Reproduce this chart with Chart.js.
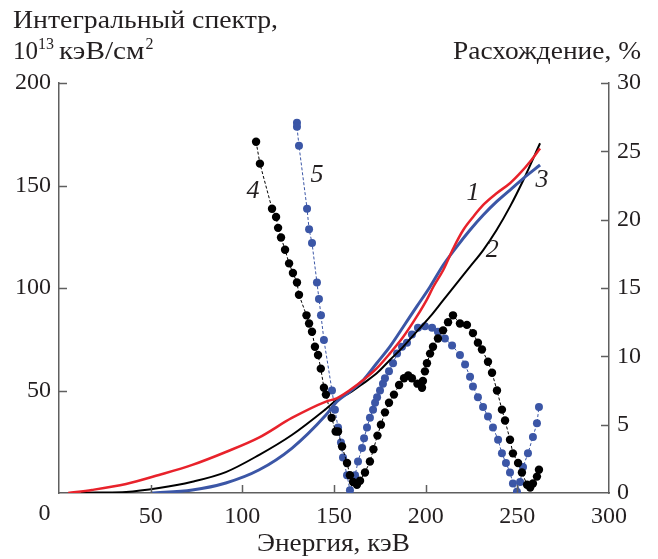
<!DOCTYPE html>
<html>
<head>
<meta charset="utf-8">
<script src="https://cdn.jsdelivr.net/npm/chart.js@4.4.1/dist/chart.umd.min.js"></script>
<style>
  html, body { margin: 0; padding: 0; background: #fff; }
  #wrap { width: 658px; height: 559px; position: relative; }
</style>
</head>
<body>
<div id="wrap"><canvas id="c" width="658" height="559"></canvas></div>
<script>
// ---- Data ----
const xTicks = [0, 50, 100, 150, 200, 250, 300];
const yLeftTicks = [0, 50, 100, 150, 200];
const yRightTicks = [0, 5, 10, 15, 20, 25, 30];

// Curve 1 (red): integral spectrum, 10^13 keV/cm^2
const curve1X = [5, 18, 36.6, 54.5, 72.7, 91, 109, 127, 145.6, 151.5, 158.7, 166, 173.3, 180.5, 187.8, 195.1, 200.5, 204.2, 209.6, 215.1, 220.5, 226, 231.4, 238.7, 246, 251.5, 256.9, 262.4];
const curve1Y = [0, 1.5, 4.4, 8.8, 13.7, 20, 27, 36.6, 44.6, 46.2, 50.2, 55.1, 60.8, 68.1, 76.2, 86, 94.1, 100.6, 108.8, 119.4, 128.3, 134.8, 140.5, 146.2, 151.1, 156, 161.6, 168.1];

// Curve 2 (black)
const curve2X = [12, 20, 36.6, 54.5, 72.7, 91, 109, 127, 145.6, 151.5, 158.7, 166, 173.3, 180.5, 187.8, 195.1, 202.4, 209.6, 216.9, 224.2, 231.4, 238.7, 246, 253.3, 262.4];
const curve2Y = [0, 0.2, 0.5, 2.4, 5.5, 10.2, 18.5, 28.3, 41, 45.4, 48.9, 53.5, 58.4, 64.9, 71.4, 78.7, 86, 94.1, 102.3, 110.4, 118.5, 128.3, 139.7, 152.7, 170.6];

// Curve 3 (blue)
const curve3X = [50, 72.7, 91, 109, 127, 145.6, 151.5, 158.7, 166, 173.3, 180.5, 187.8, 195.1, 202.4, 209.6, 216.9, 224.2, 231.4, 238.7, 246, 253.3, 262.4];
const curve3Y = [0, 1.5, 4.9, 11.2, 21.8, 38, 44.5, 49.5, 55.1, 63.3, 71.4, 81.1, 90.9, 100.6, 111.2, 120.1, 128.3, 135.6, 142.1, 147.8, 153.5, 160];

// Curve 4 (black dots): discrepancy, %
const curve4X = [107.5, 109.6, 116.2, 118.4, 119.5, 121.1, 123.3, 125.5, 127.6, 129.8, 130.9, 135, 136.4, 138.0, 139.6, 141.3, 142.8, 144.5, 145.6, 148.7, 150.9, 152.2, 154.4, 157.1, 158.7, 160.4, 162.5, 164.2, 166.9, 169.6, 171.5, 173.7, 175.6, 177.8, 180.0, 182.7, 185.5, 188.2, 190.5, 192.5, 195.5, 198.0, 198.5, 199.6, 200.7, 202.4, 204.0, 206.7, 209.5, 212.2, 214.9, 218.7, 222.5, 225.8, 228.5, 230.7, 234.0, 236.2, 238.9, 241.6, 243.3, 246.0, 247.6, 250.4, 252.5, 255.3, 257.0, 258.5, 260.7, 261.8];
const curve4Y = [25.7, 24.1, 20.8, 20.2, 19.4, 18.7, 17.8, 16.8, 16.1, 15.4, 14.5, 13.0, 12.4, 11.8, 10.7, 10.1, 9.1, 7.7, 7.2, 5.5, 4.5, 4.5, 3.4, 2.2, 1.3, 0.8, 0.6, 0.9, 1.5, 2.3, 3.2, 4.2, 5.0, 5.9, 6.6, 7.2, 7.9, 8.4, 8.6, 8.4, 8.0, 7.7, 8.2, 8.9, 9.5, 10.2, 10.7, 11.3, 11.9, 12.5, 13.0, 12.4, 12.3, 11.7, 11.0, 10.5, 9.6, 8.8, 7.5, 6.1, 5.3, 3.9, 2.9, 2.2, 1.5, 0.6, 0.4, 0.7, 1.2, 1.7];

// Curve 5 (blue dots)
const curve5X = [129.8, 129.8, 130.9, 135.3, 136.4, 138.0, 140.7, 141.8, 142.9, 144.5, 148.9, 150.5, 152.2, 153.8, 154.9, 157.1, 158.7, 161.5, 163.1, 165.3, 166.4, 168.0, 169.6, 171.3, 172.4, 173.5, 175.1, 176.7, 177.8, 180.0, 182.2, 184.4, 187.1, 189.8, 192.5, 195.8, 199.6, 203.5, 206.7, 210.5, 214.4, 218.7, 221.5, 224.2, 225.8, 228.5, 231.3, 234.0, 236.7, 239.5, 241.6, 243.8, 246.0, 247.6, 249.8, 251.5, 253.1, 255.8, 258.5, 260.7, 261.8];
const curve5Y = [27.1, 26.8, 25.4, 20.8, 19.3, 18.3, 15.4, 14.2, 13.0, 11.2, 7.5, 6.1, 4.8, 3.7, 2.6, 1.3, 0.2, 1.3, 2.3, 3.3, 4.0, 4.8, 5.5, 6.1, 6.6, 7.0, 7.5, 8.0, 8.4, 8.9, 9.5, 10.2, 10.7, 11.0, 11.6, 12.1, 12.2, 12.1, 11.8, 11.3, 10.8, 10.1, 9.4, 8.5, 7.8, 7.0, 6.3, 5.6, 4.8, 3.9, 2.9, 2.2, 1.5, 0.7, 0.1, 0.8, 1.9, 2.9, 4.1, 5.1, 6.3];

// Curve number labels: [text, x value, left-axis value]
const curveLabels = [
  ['1', 225.8, 146.5],
  ['2', 236.3, 118.5],
  ['3', 263.5, 152.5],
  ['4', 105.8, 147],
  ['5', 140.7, 155]
];

// ---- Styling ----
const RED = '#e8222b';
const BLUE = '#3b56a6';
const BLACK = '#000000';
const AXIS = '#5f5f5f';
const TEXT = '#231f20';
const FONT = 'Liberation Serif, Times New Roman, serif';
const FS = 24;

const zip = (xs, ys) => xs.map((x, i) => ({ x: x, y: ys[i] }));

// draw text stretched horizontally to a target width
function fitText(ctx, str, x, y, width) {
  const w = ctx.measureText(str).width;
  ctx.save();
  ctx.translate(x, y);
  ctx.scale(width / w, 1);
  ctx.fillText(str, 0, 0);
  ctx.restore();
}

const overlay = {
  id: 'overlay',
  afterDraw(chart) {
    const ctx = chart.ctx;
    const xs = chart.scales.x, yl = chart.scales.y, yr = chart.scales.y2;
    const area = chart.chartArea;
    ctx.save();
    // inward tick marks
    ctx.strokeStyle = AXIS;
    ctx.lineWidth = 1.5;
    const TL = 8;
    ctx.beginPath();
    xTicks.forEach(v => {
      if (v === 0 || v === 300) return;
      const p = Math.round(xs.getPixelForValue(v)) + 0.5;
      ctx.moveTo(p, area.bottom); ctx.lineTo(p, area.bottom - TL);
    });
    yLeftTicks.forEach(v => {
      if (v === 0) return;
      const p = Math.round(yl.getPixelForValue(v)) + 0.5;
      ctx.moveTo(area.left, p); ctx.lineTo(area.left + TL, p);
    });
    yRightTicks.forEach(v => {
      if (v === 0) return;
      const p = Math.round(yr.getPixelForValue(v)) + 0.5;
      ctx.moveTo(area.right, p); ctx.lineTo(area.right - TL, p);
    });
    ctx.stroke();

    ctx.fillStyle = TEXT;
    // axis titles
    ctx.font = '25px ' + FONT;
    ctx.textBaseline = 'alphabetic';
    ctx.textAlign = 'left';
    fitText(ctx, 'Интегральный спектр,', 13, 28, 265);
    // 10^13 кэВ/см^2
    let x = 13;
    const base = 59;
    ctx.fillText('10', x, base); x += ctx.measureText('10').width;
    ctx.font = '16px ' + FONT;
    ctx.fillText('13', x, base - 10); x += ctx.measureText('13').width + 5;
    ctx.font = '25px ' + FONT;
    const kw = ctx.measureText('кэВ/см').width;
    fitText(ctx, 'кэВ/см', x, base, kw * 1.17); x += kw * 1.17;
    ctx.font = '16px ' + FONT;
    ctx.fillText('2', x + 1, base - 10);

    ctx.font = '25px ' + FONT;
    fitText(ctx, 'Расхождение, %', 453, 59, 188);

    fitText(ctx, 'Энергия, кэВ', 257, 551, 153);

    // the shared zero at the corner
    ctx.font = FS + 'px ' + FONT;
    ctx.textAlign = 'center';
    ctx.textBaseline = 'middle';
    ctx.fillText('0', 44.5, 514);

    // curve numbers
    ctx.font = 'italic 26px ' + FONT;
    curveLabels.forEach(l => {
      ctx.fillText(l[0], xs.getPixelForValue(l[1]), yl.getPixelForValue(l[2]));
    });
    ctx.restore();
  }
};

const tickFont = { family: FONT, size: FS };

new Chart(document.getElementById('c'), {
  type: 'scatter',
  data: {
    datasets: [
      { label: '1', data: zip(curve1X, curve1Y), yAxisID: 'y', showLine: true, borderColor: RED, borderWidth: 2.5, pointRadius: 0, tension: 0.4, cubicInterpolationMode: 'monotone' },
      { label: '3', data: zip(curve3X, curve3Y), yAxisID: 'y', showLine: true, borderColor: BLUE, borderWidth: 3, pointRadius: 0, tension: 0.4, cubicInterpolationMode: 'monotone' },
      { label: '2', data: zip(curve2X, curve2Y), yAxisID: 'y', showLine: true, borderColor: BLACK, borderWidth: 2, pointRadius: 0, tension: 0.4, cubicInterpolationMode: 'monotone' },
      { label: '4', data: zip(curve4X, curve4Y), yAxisID: 'y2', showLine: true, borderColor: BLACK, borderWidth: 1, borderDash: [3, 2], pointRadius: 4.2, pointBackgroundColor: BLACK, pointBorderWidth: 0, tension: 0 },
      { label: '5', data: zip(curve5X, curve5Y), yAxisID: 'y2', showLine: true, borderColor: BLUE, borderWidth: 1, borderDash: [3, 2], pointRadius: 4, pointBackgroundColor: BLUE, pointBorderWidth: 0, tension: 0 }
    ]
  },
  options: {
    responsive: false,
    animation: false,
    devicePixelRatio: 1,
    layout: { padding: { top: 83, left: 0, right: 0, bottom: 0 } },
    plugins: { legend: { display: false }, tooltip: { enabled: false } },
    scales: {
      x: {
        type: 'linear', min: 0, max: 300,
        afterBuildTicks: s => { s.ticks = xTicks.map(v => ({ value: v })); },
        ticks: { font: tickFont, color: TEXT, padding: 9, maxRotation: 0, autoSkip: false, callback: v => (v === 0 ? '' : String(v)) },
        grid: { display: false, drawTicks: false },
        border: { display: true, color: AXIS, width: 1.5 },
        afterFit: s => { s.height = 66; }
      },
      y: {
        position: 'left', min: 0, max: 200,
        afterBuildTicks: s => { s.ticks = yLeftTicks.map(v => ({ value: v })); },
        ticks: { font: tickFont, color: TEXT, padding: 8, callback: v => (v === 0 ? '' : String(v)) },
        grid: { display: false, drawTicks: false },
        border: { display: true, color: AXIS, width: 1.5 },
        afterFit: s => { s.width = 59; }
      },
      y2: {
        position: 'right', min: 0, max: 30,
        afterBuildTicks: s => { s.ticks = yRightTicks.map(v => ({ value: v })); },
        ticks: { font: tickFont, color: TEXT, padding: 8, callback: v => String(v) },
        grid: { display: false, drawTicks: false },
        border: { display: true, color: AXIS, width: 1.5 },
        afterFit: s => { s.width = 49; }
      }
    }
  },
  plugins: [overlay]
});
</script>
</body>
</html>
